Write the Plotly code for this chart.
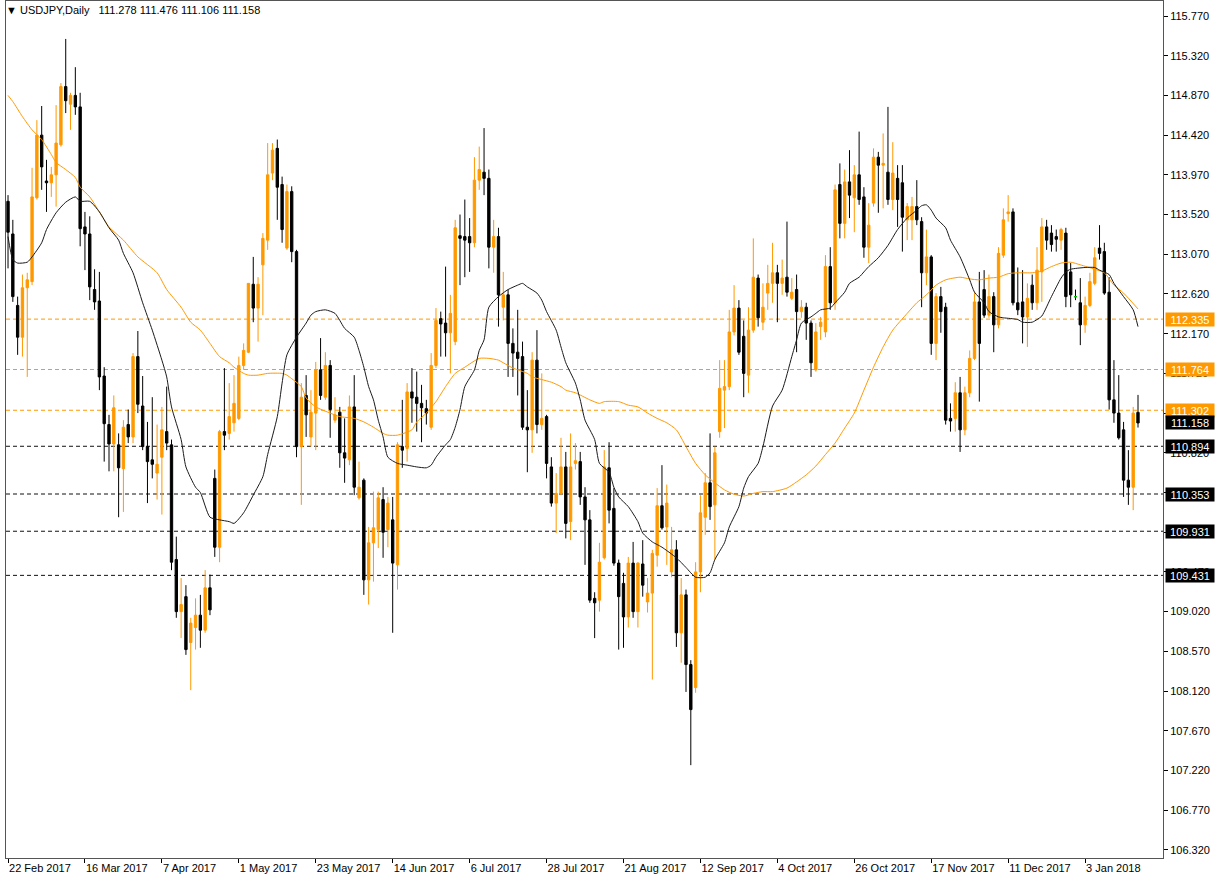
import plotly.graph_objects as go
import pandas as pd

# ---- categories (trading days shown on the chart) ----
dates = [d.strftime("%Y-%m-%d") for d in pd.bdate_range("2017-02-22", "2018-01-18")
         if d.strftime("%Y-%m-%d") != "2017-12-25"]

tick_labels = ["22 Feb 2017", "16 Mar 2017", "7 Apr 2017", "1 May 2017", "23 May 2017",
               "14 Jun 2017", "6 Jul 2017", "28 Jul 2017", "21 Aug 2017", "12 Sep 2017",
               "4 Oct 2017", "26 Oct 2017", "17 Nov 2017", "11 Dec 2017", "3 Jan 2018"]

# ---- OHLC values ----
opens = [113.67,113.30,112.49,112.13,112.69,112.76,113.71,114.42,113.90,113.88,
         113.97,114.31,114.97,114.77,114.87,114.74,113.38,113.30,112.67,112.54,
         111.69,111.14,110.92,110.91,110.64,111.14,111.00,111.91,111.35,110.89,
         110.74,110.59,110.77,111.06,110.91,109.61,109.02,109.19,108.67,108.84,
         108.98,108.81,109.29,110.53,109.75,111.06,111.04,111.16,111.21,111.81,
         111.96,112.73,112.46,112.95,113.23,113.99,114.27,113.86,113.14,113.78,
         113.10,110.89,111.47,111.00,111.27,111.76,111.45,111.81,111.19,111.28,
         110.82,110.74,111.34,110.31,110.51,109.38,109.80,109.95,110.29,109.95,
         110.06,109.55,110.89,110.87,111.51,111.45,111.38,111.32,111.11,111.81,
         112.34,112.29,112.18,112.08,113.28,113.27,113.27,113.20,113.91,114.00,
         113.93,113.15,113.27,112.47,112.61,112.06,111.96,111.91,111.11,111.08,
         111.87,111.14,111.23,110.66,110.25,110.36,110.66,110.04,110.70,110.72,
         110.32,110.06,109.17,109.15,109.63,110.65,110.19,109.57,109.34,108.96,
         109.57,109.02,109.56,109.13,109.23,109.66,110.22,109.98,109.47,109.72,
         108.78,109.21,108.42,108.16,109.47,110.09,110.48,110.23,111.06,111.53,
         111.57,112.19,112.46,112.14,111.70,112.21,112.80,112.30,112.63,112.74,
         112.86,112.74,112.81,112.57,112.67,112.42,112.47,112.29,111.76,112.25,
         112.19,112.93,112.52,113.86,113.42,113.89,113.71,113.97,113.72,113.15,
         113.65,114.17,114.08,114.00,113.69,113.93,113.88,113.46,113.46,113.61,
         113.44,112.86,113.04,112.06,112.59,112.47,111.21,111.21,111.50,111.08,
         111.50,111.89,112.53,112.67,112.38,112.59,112.27,113.06,113.53,113.55,
         112.52,112.53,112.36,112.72,112.52,112.87,113.38,113.31,113.27,113.23,
         113.31,112.87,112.59,112.52,112.27,112.49,112.74,113.14,113.10,112.64,
         111.42,111.27,111.08,110.51,110.43,111.278]

highs = [113.74,113.46,112.59,112.84,112.86,114.05,114.59,114.75,114.14,114.06,
         114.76,115.01,115.51,114.90,115.19,114.90,113.55,113.50,112.90,112.87,
         111.79,111.25,111.47,111.04,111.19,111.31,111.95,112.20,111.69,111.17,
         111.45,111.14,111.34,111.57,110.97,109.87,109.40,109.32,108.95,109.17,
         109.21,109.49,109.44,110.63,111.08,111.78,111.61,111.70,111.91,112.06,
         112.74,113.04,112.81,113.31,114.33,114.33,114.37,113.95,113.86,113.84,
         113.12,111.61,111.70,111.53,111.85,112.12,111.96,111.87,111.45,111.34,
         111.21,111.47,111.70,110.72,110.53,109.98,110.38,110.38,110.43,110.32,
         110.32,110.94,111.42,111.61,111.78,111.74,111.59,111.42,111.95,112.46,
         112.42,112.93,112.61,113.46,113.52,113.69,113.48,114.17,114.29,114.50,
         114.03,113.46,113.37,112.87,112.67,112.23,112.44,112.08,111.53,111.96,
         112.21,111.72,111.25,110.77,110.59,110.99,110.83,111.04,110.93,110.83,
         110.43,110.17,109.24,109.80,110.85,110.94,110.42,109.61,109.46,109.64,
         109.81,109.58,109.83,109.40,109.72,110.42,110.68,110.46,109.98,109.83,
         109.40,109.27,108.47,109.58,110.34,110.59,111.04,110.89,111.87,111.87,
         112.44,112.72,112.55,112.32,112.47,113.25,112.84,112.74,112.95,113.20,
         112.95,113.01,113.44,112.80,112.84,112.55,112.52,112.32,112.29,112.36,
         113.06,113.15,113.86,114.10,114.03,114.25,114.08,114.46,113.83,113.65,
         114.27,114.23,114.44,114.74,114.34,114.08,114.08,113.65,113.72,113.91,
         113.49,113.35,113.06,112.63,112.70,112.52,111.38,111.62,111.68,111.57,
         111.98,112.64,112.87,112.89,112.84,112.64,113.15,113.59,113.74,113.59,
         112.92,112.89,112.74,112.84,113.15,113.48,113.46,113.40,113.35,113.37,
         113.37,112.97,112.67,112.80,112.59,112.86,113.15,113.40,113.20,112.81,
         111.87,111.70,111.17,110.85,111.34,111.476]

lows = [112.91,112.53,111.93,111.91,111.68,112.72,113.69,113.80,113.55,113.72,
        113.61,114.29,114.67,114.48,114.65,113.16,112.89,112.55,112.44,111.53,
        110.72,110.61,110.61,110.09,110.15,110.93,110.93,111.27,110.85,110.25,
        110.53,110.29,110.12,110.85,109.49,108.95,108.72,108.53,108.13,108.59,
        108.61,108.78,108.98,109.64,109.58,110.85,110.97,111.06,111.19,111.76,
        111.95,112.30,112.08,112.38,113.12,113.91,113.46,113.20,113.12,112.98,
        110.77,110.23,111.00,110.89,110.85,111.42,111.42,110.99,111.16,110.65,
        110.48,110.68,110.34,110.29,109.21,109.10,109.36,109.74,109.63,109.75,
        108.78,109.27,110.65,110.72,111.16,111.06,110.94,111.14,111.08,111.78,
        111.91,111.91,111.72,112.04,112.72,112.81,112.87,113.15,113.80,113.74,
        112.91,112.86,112.25,112.32,111.68,111.68,111.47,111.08,110.60,110.82,
        111.04,111.08,110.53,110.21,109.91,110.34,109.85,109.83,110.63,110.23,
        109.55,109.12,108.72,109.02,109.61,110.02,109.54,108.59,108.61,108.84,
        108.95,108.84,109.19,109.01,108.25,109.53,109.95,109.55,109.41,108.62,
        108.44,108.11,107.28,108.10,109.24,109.89,110.06,109.61,110.99,111.10,
        111.53,112.15,111.93,111.45,111.50,112.18,112.25,112.21,112.44,112.52,
        112.30,112.61,112.59,112.55,111.96,112.35,112.10,111.68,111.74,112.10,
        112.13,112.44,112.44,113.25,113.25,113.48,113.32,113.63,113.03,112.97,
        113.61,113.54,113.59,113.63,113.57,113.38,113.10,113.23,113.23,113.40,
        112.47,112.72,111.93,111.87,112.18,111.14,111.06,111.06,110.83,111.02,
        111.45,111.87,111.40,112.35,112.35,111.96,112.23,113.03,113.44,112.49,
        112.38,112.06,112.02,112.44,112.44,112.53,113.12,113.10,113.10,113.12,
        112.47,112.47,112.55,112.04,112.18,112.47,112.72,113.01,112.61,111.31,
        111.16,110.97,110.32,110.23,110.17,111.106]

closes = [113.32,112.59,112.13,112.69,112.78,113.72,114.42,114.06,113.88,113.97,
          114.33,114.97,114.81,114.87,114.74,113.36,113.30,112.70,112.53,111.68,
          111.15,110.92,111.33,110.65,111.11,111.00,111.91,111.37,110.89,110.72,
          110.69,110.69,111.08,110.93,109.58,109.02,109.10,108.59,108.89,108.98,
          108.81,109.29,109.04,109.75,111.06,111.02,111.23,111.38,111.81,111.98,
          112.74,112.46,112.73,113.25,113.97,114.25,113.83,113.35,113.78,113.10,
          110.89,111.45,111.25,111.28,111.76,111.47,111.81,111.31,111.25,110.82,
          110.76,111.34,110.43,110.43,109.38,109.80,109.97,110.31,109.92,110.25,
          109.57,110.91,110.85,111.51,111.44,111.38,111.33,111.27,111.81,112.32,
          112.28,112.18,112.40,113.37,113.25,113.23,113.20,113.91,114.03,113.93,
          113.15,113.27,112.61,112.61,112.06,111.95,111.89,111.11,111.08,111.87,
          111.14,111.21,110.70,110.25,110.36,110.66,110.02,110.66,110.73,110.32,
          110.06,109.15,109.12,109.58,110.66,110.17,109.57,109.19,108.96,109.57,
          109.02,109.57,109.32,109.23,109.68,110.22,109.97,110.25,109.72,108.78,
          109.21,108.42,107.91,109.47,110.14,110.48,110.21,110.82,111.55,111.57,
          112.19,112.46,111.96,111.72,112.21,112.81,112.35,112.47,112.74,112.86,
          112.74,112.80,112.64,112.64,112.42,112.47,112.29,111.84,112.19,112.30,
          112.93,112.52,113.80,113.42,113.89,113.74,113.97,113.69,113.15,113.40,
          114.17,114.08,114.10,113.69,113.99,113.69,113.49,113.61,113.61,113.46,
          112.86,113.04,112.06,112.59,112.42,111.19,111.18,111.50,111.08,111.50,
          111.89,112.53,112.06,112.38,112.59,112.27,113.08,113.46,113.55,112.52,
          112.44,112.36,112.57,112.52,112.89,113.38,113.23,113.18,113.24,113.35,
          112.59,112.61,112.59,112.27,112.49,112.76,113.03,113.08,112.63,111.42,
          111.27,110.99,110.51,110.43,111.27,111.158]

# ---- moving averages (bar index, price) ----
ma_fast_idx = [0,1,2,4,5,7,8,10,12,14,15,17,19,21,23,24,26,28,30,32,33,34,36,37,39,40,42,44,46,47,
               49,51,53,54,56,57,58,60,62,63,64,66,68,69,70,72,73,74,75,76,77,78,79,81,83,85,87,88,89,91,
               92,93,94,95,97,98,99,100,102,104,106,107,108,110,111,112,114,115,116,118,119,120,122,123,125,126,127,129,131,132,
               134,135,136,139,141,143,145,146,147,149,150,152,153,154,156,157,159,161,163,164,165,167,168,169,171,172,174,175,177,178,
               179,181,183,185,187,189,190,191,192,193,195,196,198,200,201,203,204,206,207,210,211,213,214,215,217,219,220,221,224,226,
               227,229,230,232,234,235]
ma_fast_val = [113.27,113.01,112.97,112.98,113.04,113.20,113.35,113.54,113.66,113.72,113.67,113.67,113.55,113.37,113.23,113.08,112.86,112.52,112.21,111.87,
               111.68,111.34,110.97,110.66,110.43,110.37,110.09,110.06,110.04,110.02,110.14,110.34,110.55,110.80,111.23,111.61,111.93,112.13,112.29,112.38,
               112.42,112.44,112.40,112.32,112.23,112.13,111.98,111.79,111.57,111.42,111.19,111.00,110.77,110.70,110.68,110.66,110.65,110.68,110.77,110.91,
               110.97,111.11,111.31,111.57,111.76,111.98,112.10,112.47,112.59,112.67,112.72,112.74,112.70,112.63,112.55,112.42,112.21,112.02,111.84,111.61,
               111.42,111.19,110.97,110.70,110.60,110.43,110.32,110.21,110.04,109.91,109.81,109.78,109.75,109.63,109.52,109.41,109.41,109.46,109.61,109.80,
               109.98,110.21,110.42,110.55,110.70,110.89,111.35,111.53,111.91,112.10,112.29,112.36,112.40,112.44,112.46,112.52,112.64,112.74,112.81,112.87,
               112.93,113.03,113.17,113.35,113.48,113.57,113.62,113.63,113.57,113.48,113.37,113.23,113.04,112.78,112.64,112.52,112.42,112.36,112.35,112.33,
               112.30,112.30,112.33,112.37,112.59,112.80,112.87,112.90,112.92,112.92,112.89,112.84,112.74,112.59,112.44,112.25]

ma_slow_idx = [0,1,3,5,7,9,10,12,14,15,17,19,21,24,27,31,33,36,38,40,42,44,46,47,49,50,52,54,57,58,
               59,61,62,64,67,69,72,74,76,78,79,81,84,85,87,89,91,93,95,98,100,102,103,105,106,108,109,111,113,115,
               116,118,121,123,124,127,129,131,133,135,137,139,141,143,145,147,149,151,153,155,157,159,162,164,166,168,170,172,174,176,
               178,180,182,184,187,189,191,193,195,198,200,202,204,206,208,210,213,215,217,219,221,223,226,228,230,232,235]
ma_slow_val = [114.87,114.80,114.63,114.48,114.37,114.20,114.11,114.03,113.94,113.83,113.72,113.55,113.38,113.23,113.04,112.86,112.67,112.47,112.30,112.21,
               112.06,111.91,111.84,111.79,111.72,111.70,111.70,111.72,111.72,111.70,111.66,111.57,111.44,111.34,111.27,111.23,111.21,111.17,111.11,111.04,
               111.02,111.02,111.08,111.17,111.27,111.40,111.57,111.72,111.79,111.89,111.89,111.87,111.84,111.78,111.76,111.72,111.68,111.65,111.62,111.57,
               111.53,111.50,111.42,111.38,111.40,111.40,111.36,111.34,111.27,111.21,111.16,111.08,110.89,110.70,110.57,110.48,110.40,110.35,110.33,110.36,
               110.38,110.38,110.42,110.49,110.57,110.67,110.80,110.93,111.10,111.27,111.53,111.79,112.02,112.21,112.40,112.52,112.61,112.72,112.78,112.81,
               112.79,112.78,112.80,112.81,112.85,112.86,112.86,112.88,112.93,112.97,112.98,112.95,112.90,112.86,112.72,112.63,112.45]

# ---- horizontal levels ----
levels_orange = [112.335, 111.764, 111.302]
levels_black = [110.894, 110.353, 109.931, 109.431]
last_price = 111.158
header = "USDJPY,Daily  111.278 111.476 111.106 111.158"

ytick_vals = [106.32 + 0.45 * k for k in range(22)]

ORANGE = "#FF9900"
BLACK = "#000000"
FONT = "Liberation Sans, Arial, sans-serif"

fig = go.Figure()
fig.add_trace(go.Candlestick(
    x=dates, open=opens, high=highs, low=lows, close=closes,
    increasing=dict(line=dict(color=ORANGE, width=1), fillcolor=ORANGE),
    decreasing=dict(line=dict(color=BLACK, width=1), fillcolor=BLACK),
    whiskerwidth=0, showlegend=False, hoverinfo="skip"))

# doji bars (open == close) are drawn in green like the terminal
doji = [i for i in range(len(dates)) if opens[i] == closes[i]]
fig.add_trace(go.Candlestick(
    x=[dates[i] for i in doji], open=[opens[i] for i in doji], high=[opens[i] for i in doji],
    low=[opens[i] for i in doji], close=[closes[i] for i in doji],
    increasing=dict(line=dict(color="#00C800", width=1), fillcolor="#00C800"),
    decreasing=dict(line=dict(color="#00C800", width=1), fillcolor="#00C800"),
    showlegend=False, hoverinfo="skip"))

fig.add_trace(go.Scatter(x=[dates[i] for i in ma_slow_idx], y=ma_slow_val, mode="lines",
                         line=dict(color=ORANGE, width=1, shape="spline", smoothing=0.6),
                         showlegend=False, hoverinfo="skip"))
fig.add_trace(go.Scatter(x=[dates[i] for i in ma_fast_idx], y=ma_fast_val, mode="lines",
                         line=dict(color="#1a1a1a", width=1, shape="spline", smoothing=0.6),
                         showlegend=False, hoverinfo="skip"))

shapes = []
annotations = []
for lv in levels_orange:
    shapes.append(dict(type="line", xref="paper", x0=0, x1=1, yref="y", y0=lv, y1=lv,
                       line=dict(color=ORANGE, width=1, dash="4px,3px"), layer="below"))
    annotations.append(dict(x=1, xref="paper", xanchor="left", xshift=2, y=lv, yref="y",
                            text=f"{lv:.3f}", showarrow=False, bgcolor=ORANGE, width=48, height=13,
                            borderpad=0, font=dict(family=FONT, size=11, color="white")))
for lv in levels_black:
    shapes.append(dict(type="line", xref="paper", x0=0, x1=1, yref="y", y0=lv, y1=lv,
                       line=dict(color="#111111", width=1, dash="4px,3px"), layer="below"))
    annotations.append(dict(x=1, xref="paper", xanchor="left", xshift=2, y=lv, yref="y",
                            text=f"{lv:.3f}", showarrow=False, bgcolor=BLACK, width=48, height=13,
                            borderpad=0, font=dict(family=FONT, size=11, color="white")))
annotations.append(dict(x=1, xref="paper", xanchor="left", xshift=2, y=last_price, yref="y",
                        text=f"{last_price:.3f}", showarrow=False, bgcolor=BLACK, width=48, height=13,
                        borderpad=0, font=dict(family=FONT, size=11, color="white")))
annotations.append(dict(x=0, xref="paper", y=1, yref="paper", xanchor="left", yanchor="top",
                        xshift=-2, yshift=-1, text="\u25bc " + header.replace("  ", "\u00a0\u00a0\u00a0"),
                        showarrow=False, font=dict(family=FONT, size=11, color="black")))

fig.update_layout(
    width=1219, height=879,
    margin=dict(l=6, r=56, t=1, b=21),
    paper_bgcolor="white", plot_bgcolor="white",
    shapes=shapes, annotations=annotations,
    font=dict(family=FONT, size=11, color="black"),
    showlegend=False,
    xaxis=dict(type="category", range=[-0.42, 240.2], rangeslider=dict(visible=False),
               tickmode="array", tickvals=dates[0::16], ticktext=tick_labels,
               ticks="outside", ticklen=4, tickcolor="black", ticklabelposition="outside right",
               showgrid=False, showline=True, linecolor="#555555", mirror=True, zeroline=False,
               tickfont=dict(family=FONT, size=11, color="black")),
    yaxis=dict(side="right", range=[106.228, 115.940], tickmode="array", tickvals=ytick_vals,
               ticktext=[f"{v:.3f}" for v in ytick_vals], ticks="outside", ticklen=4,
               tickcolor="black", showgrid=False, showline=True, linecolor="#555555",
               mirror=True, zeroline=False, tickfont=dict(family=FONT, size=11, color="black")),
)

fig.write_html("out.html", config={"displayModeBar": False},
               post_script="document.body.style.margin='0';document.body.style.overflow='hidden';")
